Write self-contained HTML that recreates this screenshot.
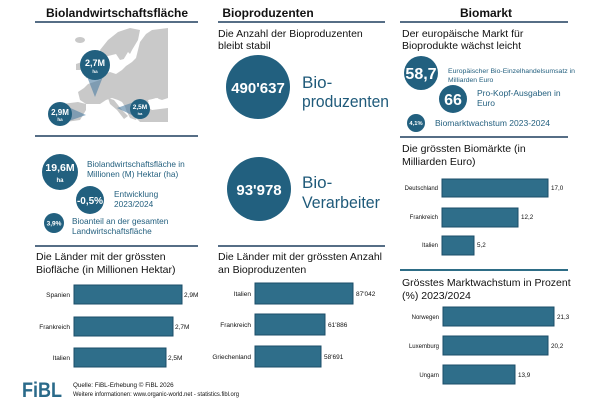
<!DOCTYPE html>
<html><head><meta charset="utf-8"><style>
html,body{margin:0;padding:0;background:#fff;}
svg{display:block;}
text{font-family:"Liberation Sans",sans-serif;}
</style></head><body>
<svg width="600" height="400" viewBox="0 0 600 400" xmlns="http://www.w3.org/2000/svg">
<rect width="600" height="400" fill="#fff"/>

<!-- Headings -->
<text x="117" y="17" font-size="12" font-weight="bold" text-anchor="middle" fill="#111">Biolandwirtschaftsfläche</text>
<text x="268" y="17" font-size="12" font-weight="bold" text-anchor="middle" fill="#111">Bioproduzenten</text>
<text x="486" y="17" font-size="12" font-weight="bold" text-anchor="middle" fill="#111">Biomarkt</text>
<g stroke="#1f3f5f" stroke-width="1.5">
<line x1="35" y1="22" x2="198" y2="22"/>
<line x1="218" y1="22" x2="385" y2="22"/>
<line x1="400" y1="22" x2="568" y2="22"/>
<line x1="35" y1="136" x2="198" y2="136"/>
<line x1="400" y1="137" x2="568" y2="137"/>
<line x1="35" y1="246" x2="198" y2="246"/>
<line x1="218" y1="246" x2="385" y2="246"/>
</g>
<line x1="400" y1="270" x2="568" y2="270" stroke="#2e6d86" stroke-width="2"/>

<!-- Map -->
<g fill="#c9c9c9">
<polygon points="80,100 78,92 84,88 88,84 94,82 100,80 104,74 110,72 116,74 122,70 126,66 132,62 136,58 138,50 140,42 146,34 152,30 168,28 168,98 162,100 156,98 150,100 146,106 152,110 168,108 168,122 140,122 136,118 130,115 126,108 122,102 118,100 112,98 106,100 100,104 92,104 86,104"/>
<polygon points="62,104 78,102 86,104 86,110 80,120 66,122 60,116 62,110"/>
<polygon points="108,98 114,100 122,110 128,116 124,119 117,110 110,104"/>
<polygon points="124,102 136,102 140,110 136,120 130,118 126,110"/>
<polygon points="100,50 108,40 118,32 130,28 140,30 138,40 132,50 128,58 120,60 116,54 108,56 102,56"/>
<polygon points="84,58 90,52 96,60 96,74 86,78 84,70 88,64"/>
<polygon points="76,64 82,62 82,70 76,70"/>
<ellipse cx="80" cy="40" rx="5" ry="3"/>
</g>
<g fill="#fff">
<polygon points="122,62 128,52 132,56 128,64"/>
<polygon points="148,100 158,98 160,104 150,106"/>
</g>
<!-- pointers -->
<g fill="#4e7fa3" fill-opacity="0.6">
<polygon points="86,74 104,74 95,97"/>
<polygon points="66,106 66,122 86,115"/>
<polygon points="134,102 134,116 117,108"/>
</g>
<g fill="#22607f">
<circle cx="95" cy="65" r="15"/>
<circle cx="60" cy="114" r="12"/>
<circle cx="140" cy="109" r="10"/>
</g>
<g fill="#fff" font-weight="bold" text-anchor="middle">
<text x="95" y="66" font-size="9">2,7M</text>
<text x="95" y="73" font-size="4.5">ha</text>
<text x="60" y="115" font-size="8">2,9M</text>
<text x="60" y="121" font-size="4.5">ha</text>
<text x="140" y="109" font-size="6.5">2,5M</text>
<text x="140" y="115" font-size="4">ha</text>
</g>

<!-- Col1 mid stats -->
<g fill="#22607f">
<circle cx="60" cy="172" r="18"/>
<circle cx="90" cy="200" r="14"/>
<circle cx="54" cy="223" r="10"/>
</g>
<g fill="#fff" font-weight="bold" text-anchor="middle">
<text x="60" y="171" font-size="10.5">19,6M</text>
<text x="60" y="182" font-size="6">ha</text>
<text x="90" y="204" font-size="10">-0,5%</text>
<text x="54" y="225.5" font-size="6.5">3,9%</text>
</g>
<g fill="#24607f" font-size="8.3">
<text x="87" y="167">Biolandwirtschaftsfläche in</text>
<text x="87" y="177">Millionen (M) Hektar (ha)</text>
<text x="114" y="197">Entwicklung</text>
<text x="114" y="207">2023/2024</text>
<text x="72" y="224">Bioanteil an der gesamten</text>
<text x="72" y="234">Landwirtschaftsfläche</text>
</g>

<!-- Col1 bars -->
<g fill="#111" font-size="10.5">
<text x="36" y="260">Die Länder mit der grössten</text>
<text x="36" y="273">Biofläche (in Millionen Hektar)</text>
</g>
<g fill="#2f6e8a" stroke="#1b4d68" stroke-width="1">
<rect x="74" y="285" width="108" height="19"/>
<rect x="74" y="317" width="99" height="19"/>
<rect x="74" y="348" width="92" height="19"/>
</g>
<g fill="#111" font-size="6.5" text-anchor="end">
<text x="70" y="297">Spanien</text>
<text x="70" y="329">Frankreich</text>
<text x="70" y="360">Italien</text>
</g>
<g fill="#111" font-size="6.5">
<text x="184" y="297">2,9M</text>
<text x="175" y="329">2,7M</text>
<text x="168" y="360">2,5M</text>
</g>

<!-- Col2 -->
<g fill="#111" font-size="10.5">
<text x="218" y="37">Die Anzahl der Bioproduzenten</text>
<text x="218" y="49">bleibt stabil</text>
</g>
<circle cx="258" cy="87" r="32" fill="#22607f"/>
<circle cx="259" cy="189" r="32" fill="#22607f"/>
<g fill="#fff" font-weight="bold" text-anchor="middle" font-size="15">
<text x="258" y="93">490'637</text>
<text x="259" y="195">93'978</text>
</g>
<g fill="#1f5a7a" font-size="17">
<text x="302" y="88">Bio-</text>
<text x="302" y="107" textLength="87" lengthAdjust="spacingAndGlyphs">produzenten</text>
<text x="302" y="188">Bio-</text>
<text x="302" y="208" textLength="78" lengthAdjust="spacingAndGlyphs">Verarbeiter</text>
</g>
<g fill="#111" font-size="10.5">
<text x="218" y="260">Die Länder mit der grössten Anzahl</text>
<text x="218" y="273">an Bioproduzenten</text>
</g>
<g fill="#2f6e8a" stroke="#1b4d68" stroke-width="1">
<rect x="255" y="283" width="98" height="21"/>
<rect x="255" y="314" width="70" height="21"/>
<rect x="255" y="346" width="66" height="21"/>
</g>
<g fill="#111" font-size="6.5" text-anchor="end">
<text x="251" y="296">Italien</text>
<text x="251" y="327">Frankreich</text>
<text x="251" y="359">Griechenland</text>
</g>
<g fill="#111" font-size="6.5">
<text x="356" y="296">87'042</text>
<text x="328" y="327">61'886</text>
<text x="324" y="359">58'691</text>
</g>

<!-- Col3 -->
<g fill="#111" font-size="10.5">
<text x="402" y="37">Der europäische Markt für</text>
<text x="402" y="49">Bioprodukte wächst leicht</text>
</g>
<g fill="#22607f">
<circle cx="421" cy="73" r="17"/>
<circle cx="453" cy="99" r="14"/>
<circle cx="416" cy="123" r="9"/>
</g>
<g fill="#fff" font-weight="bold" text-anchor="middle">
<text x="421" y="79" font-size="16">58,7</text>
<text x="453" y="105" font-size="16">66</text>
<text x="416" y="125" font-size="5.8">4,1%</text>
</g>
<g fill="#24607f">
<text x="448" y="73" font-size="6.8" textLength="127" lengthAdjust="spacingAndGlyphs">Europäischer Bio-Einzelhandelsumsatz in</text>
<text x="448" y="82" font-size="6.8">Milliarden Euro</text>
<text x="477" y="96" font-size="8.5">Pro-Kopf-Ausgaben in</text>
<text x="477" y="106" font-size="8.5">Euro</text>
<text x="435" y="126" font-size="8.5" textLength="115" lengthAdjust="spacingAndGlyphs">Biomarktwachstum 2023-2024</text>
</g>
<g fill="#111" font-size="10.5">
<text x="402" y="152">Die grössten Biomärkte (in</text>
<text x="402" y="165">Milliarden Euro)</text>
</g>
<g fill="#2f6e8a" stroke="#1b4d68" stroke-width="1">
<rect x="442" y="179" width="106" height="18"/>
<rect x="442" y="208" width="76" height="19"/>
<rect x="442" y="236" width="32" height="19"/>
</g>
<g fill="#111" font-size="6" text-anchor="end">
<text x="438" y="190">Deutschland</text>
<text x="438" y="219">Frankreich</text>
<text x="438" y="247">Italien</text>
</g>
<g fill="#111" font-size="6.3">
<text x="551" y="190">17,0</text>
<text x="521" y="219">12,2</text>
<text x="477" y="247">5,2</text>
</g>
<g fill="#111" font-size="10.5">
<text x="402" y="286">Grösstes Marktwachstum in Prozent</text>
<text x="402" y="299">(%) 2023/2024</text>
</g>
<g fill="#2f6e8a" stroke="#1b4d68" stroke-width="1">
<rect x="443" y="307" width="111" height="19"/>
<rect x="443" y="336" width="105" height="19"/>
<rect x="443" y="365" width="72" height="19"/>
</g>
<g fill="#111" font-size="6" text-anchor="end">
<text x="439" y="319">Norwegen</text>
<text x="439" y="348">Luxemburg</text>
<text x="439" y="377">Ungarn</text>
</g>
<g fill="#111" font-size="6.3">
<text x="557" y="319">21,3</text>
<text x="551" y="348">20,2</text>
<text x="518" y="377">13,9</text>
</g>

<!-- Footer -->
<text x="22" y="397" font-size="21" font-weight="bold" fill="#2a6a8a" textLength="40" lengthAdjust="spacingAndGlyphs">FiBL</text>
<g fill="#111" font-size="6.3">
<text x="73" y="387">Quelle: FiBL-Erhebung © FiBL 2026</text>
<text x="73" y="396" textLength="166" lengthAdjust="spacingAndGlyphs">Weitere informationen: www.organic-world.net - statistics.fibl.org</text>
</g>
</svg>
</body></html>
